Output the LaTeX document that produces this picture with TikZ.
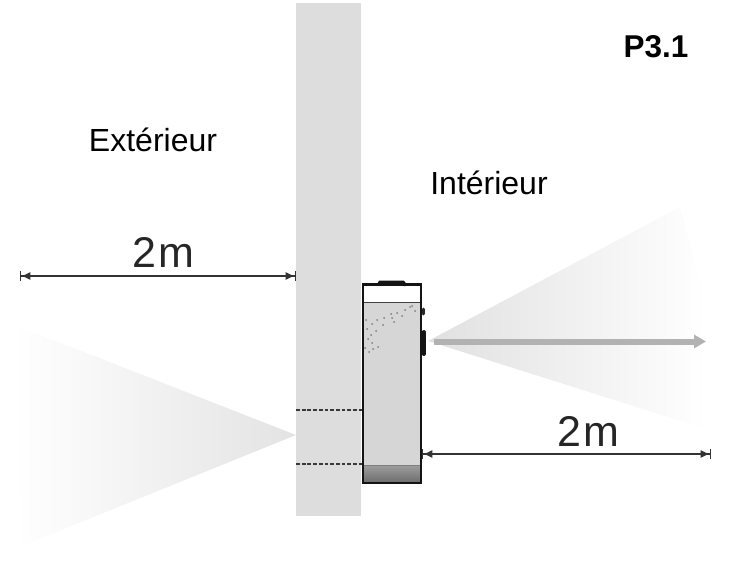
\documentclass[tikz,border=0pt]{standalone}
\usepackage{fontspec}
\setmainfont{Liberation Sans}
\usetikzlibrary{arrows.meta}
\tikzset{
  lbl/.style={inner sep=0pt,text=black,font=\fontsize{32pt}{34pt}\selectfont},
  dimlbl/.style={inner sep=0pt,text=black!85,font=\fontsize{43pt}{46pt}\selectfont},
  dimline/.style={draw=black!80,line width=1.3pt,{Bar[width=10pt,line width=1.3pt]Latex[length=9pt,width=8pt]}-{Latex[length=9pt,width=8pt]Bar[width=10pt,line width=1.3pt]}},
  casing/.style={draw=black!92,line width=2.6pt},
  dashline/.style={draw=black!78,line width=1.6pt,dash pattern=on 3.8pt off 1.9pt},
  speck/.style={fill=black!50,draw=none}
}
\definecolor{wallgrey}{HTML}{DDDDDD}
\begin{document}
\begin{tikzpicture}[x=1pt,y=-1pt]
\useasboundingbox (0,0) rectangle (743,569);
% beams
\path[left color=white,right color=black!11] (15,325) -- (296,435) -- (22,546) -- cycle;
\path[left color=black!12,right color=white] (428,341) -- (680,207) -- (706,300) -- (706,428) -- (690,424) -- cycle;
% wall
\fill[wallgrey] (296,3) rectangle (361,516);
% device body
\fill[black!16] (364,284) rectangle (421,483);
\fill[white] (364,285) rectangle (420,302);
\shade[top color=black!38,bottom color=black!58] (364,465) rectangle (421,483);
\foreach \p/\q in {410/307,405/310,397/313,391/314,384/318,377/320,372/324,383/325,367/329,376/331,394/322,402/316,412/306,415/311,368/339,372/343,365/348,373/349,369/352,378/347,371/335,366/320,392/318}
  \fill[speck] (\p,\q) circle (1);
% casing
\draw[casing,line width=3pt] (378,285.5) -- (380,282) -- (403,282) -- (406,285.5);
\draw[casing] (363,483) -- (363,284.5) -- (421,284.5) -- (421,483) -- cycle;
\draw[draw=black!75,line width=1pt] (364,302) -- (420,302);
\draw[draw=black!85,line width=3pt,line cap=round] (423.5,309) -- (423.5,314);
\draw[draw=black!92,line width=4pt,line cap=round] (423.5,332) -- (423.5,354);
\draw[draw=black!50,line width=1pt] (364,465) -- (420,465);
% dashes
\coordinate (d1a) at (296,410); \coordinate (d1b) at (362,410);
\coordinate (d2a) at (296,464); \coordinate (d2b) at (362,464);
\draw[dashline] (d1a) -- (d1b);
\draw[dashline] (d2a) -- (d2b);
% sensor arrow
\coordinate (ara) at (434,341.5); \coordinate (arb) at (706,341.5);
\draw[draw=black!30,line width=6pt,-{Triangle[length=12pt,width=13pt]}] (ara) -- (arb);
% dimensions
\coordinate (la) at (20,276); \coordinate (lb) at (296,276);
\coordinate (ra) at (422,454); \coordinate (rb) at (711,454);
\draw[dimline] (la) -- (lb);
\draw[dimline] (ra) -- (rb);
% text
\node[lbl,anchor=center] (ext) at (153,140) {Extérieur};
\node[lbl,anchor=center] (int) at (489,183) {Intérieur};
\node[lbl,anchor=center,font=\fontsize{31.5pt}{34pt}\selectfont\bfseries] (p) at (656,47) {P3.1};
\node[dimlbl] (m1) at (163,252) {2\kern2pt m};
\node[dimlbl] (m2) at (588,431) {2\kern2pt m};
\end{tikzpicture}
\end{document}
